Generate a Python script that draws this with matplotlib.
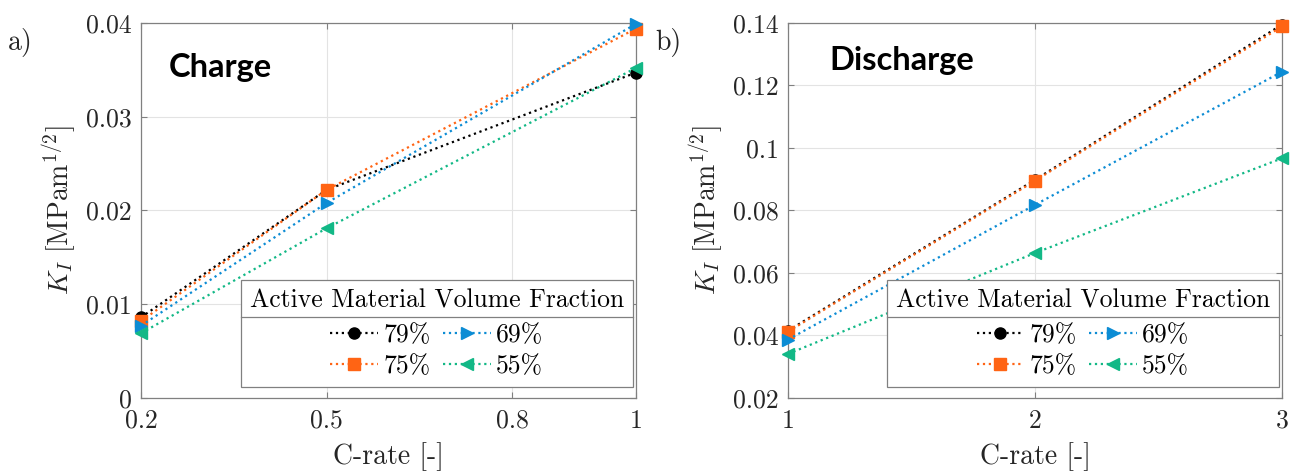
import numpy as np
import matplotlib
matplotlib.use("Agg")
import matplotlib.pyplot as plt
from matplotlib.lines import Line2D

plt.rcParams['font.family'] = 'serif'
plt.rcParams['font.serif'] = ['cmr10']
plt.rcParams['mathtext.fontset'] = 'cm'
plt.rcParams['axes.formatter.use_mathtext'] = True

# data
labels = ['79%', '75%', '69%', '55%']
colors = ['#000000', '#FF6414', '#0C8CD4', '#12B886']
markers = ['o', 's', '>', '<']

charge_c = [0.2, 0.5, 1.0]
charge_k = [
    [0.0086, 0.0222, 0.0347],
    [0.0082, 0.0222, 0.0394],
    [0.0077, 0.0208, 0.0399],
    [0.0069, 0.0181, 0.0352],
]

discharge_c = [1, 2, 3]
discharge_k = [
    [0.0415, 0.0898, 0.1395],
    [0.0412, 0.0895, 0.1389],
    [0.0387, 0.0818, 0.1244],
    [0.0341, 0.0664, 0.0967],
]

charge_xticks = [0.2, 0.5, 0.8, 1.0]
charge_xticklabels = ['0.2', '0.5', '0.8', '1']
charge_yticks = [0, 0.01, 0.02, 0.03, 0.04]
charge_yticklabels = ['0', '0.01', '0.02', '0.03', '0.04']

discharge_xticks = [1, 2, 3]
discharge_xticklabels = ['1', '2', '3']
discharge_yticks = [0.02, 0.04, 0.06, 0.08, 0.1, 0.12, 0.14]
discharge_yticklabels = ['0.02', '0.04', '0.06', '0.08', '0.1', '0.12', '0.14']

fig = plt.figure(figsize=(12.93, 4.71), dpi=100)
ax1 = fig.add_axes([0.1090, 0.1550, 0.3828, 0.7962])
ax2 = fig.add_axes([0.6094, 0.1550, 0.3821, 0.7962])

panels = [
    (ax1, charge_c, charge_k, charge_xticks, charge_xticklabels,
     charge_yticks, charge_yticklabels, 'Charge', (0.057, 0.881), 'a)'),
    (ax2, discharge_c, discharge_k, discharge_xticks, discharge_xticklabels,
     discharge_yticks, discharge_yticklabels, 'Discharge', (0.083, 0.90), 'b)'),
]

legends = []
for ax, xs, ks, xt, xtl, yt, ytl, title, tpos, tag in panels:
    for k, lab, col, mk in zip(ks, labels, colors, markers):
        ax.plot(xs, k, linestyle=':', color=col, lw=1.6, marker=mk,
                markersize=8, markerfacecolor=col, markeredgecolor=col,
                label=lab, clip_on=False, zorder=3)
    ax.set_xlim(xt[0], xt[-1])
    ax.set_ylim(yt[0], yt[-1])
    ax.set_xticks(xt)
    ax.set_xticklabels(xtl)
    ax.set_yticks(yt)
    ax.set_yticklabels(ytl)
    ax.tick_params(direction='in', length=4, width=0.8, colors='#808080',
                   labelcolor='#262626', labelsize=18.5, top=True, right=True)
    ax.tick_params(axis='x', pad=8)
    ax.tick_params(axis='y', pad=6.5)
    for s in ax.spines.values():
        s.set_color('#808080')
        s.set_linewidth(0.9)
    ax.grid(True, color='#e3e3e3', lw=0.8)
    ax.set_axisbelow(True)
    ax.set_xlabel('C-rate [-]', fontsize=20, color='#262626')
    ax.xaxis.set_label_coords(0.5, -0.118)
    ax.set_ylabel(r'$K_I\ [\mathrm{MPam}^{1/2}]$', fontsize=20, color='#262626')
    ax.yaxis.set_label_coords(-0.125, 0.5)
    ax.text(tpos[0], tpos[1], title, transform=ax.transAxes, fontsize=23.5,
            fontweight='bold', family=['Lato', 'DejaVu Sans'], va='center', ha='left')
    leg = ax.legend(ncol=2, loc='lower right', bbox_to_anchor=(0.994, 0.029),
                    borderaxespad=0, title='Active Material Volume Fraction',
                    title_fontsize=18.5, fontsize=18.5, frameon=True, fancybox=False,
                    framealpha=1, edgecolor='#808080', handlelength=1.85,
                    handletextpad=0.2, columnspacing=0.5, labelspacing=0.27,
                    borderpad=0.35)
    # a bit more room between the title and the entries
    leg._legend_box.sep = 8
    leg.get_frame().set_linewidth(0.9)
    legends.append(leg)
    fig.text(ax.get_position().x0 - 0.1028, 0.909, tag, fontsize=20,
             ha='left', va='center', color='#262626')

# separator line under the legend title
fig.canvas.draw()
renderer = fig.canvas.get_renderer()
inv = fig.transFigure.inverted()
for leg in legends:
    fb = leg.get_frame().get_window_extent(renderer)
    tb = leg.get_title().get_window_extent(renderer)
    y = tb.y0 - 4
    (x0, y0), (x1, _) = inv.transform([(fb.x0, y), (fb.x1, y)])
    fig.add_artist(Line2D([x0, x1], [y0, y0], transform=fig.transFigure,
                          color='#808080', lw=0.9))

fig.savefig('out.png', dpi=100)
